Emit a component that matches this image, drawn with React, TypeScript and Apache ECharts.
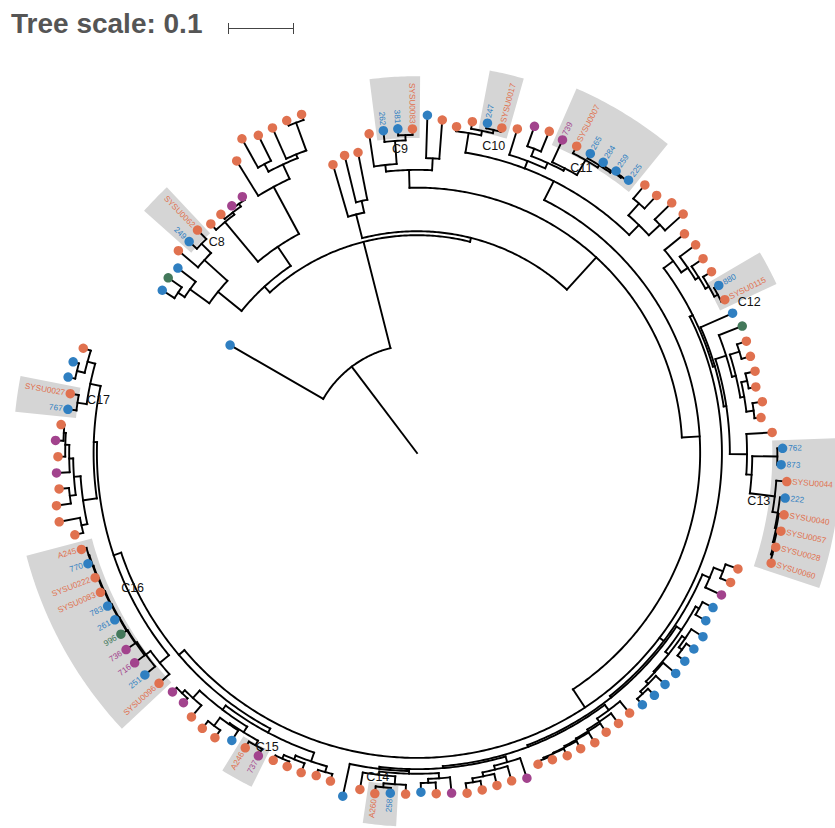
import React, { useEffect, useRef } from "react";
import * as echarts from "echarts";

// Tree in Newick style; every node carries its distance from the root after "@".
// Leaf token: colour group (o / b / p / g), optionally followed by "|label".
const C8a1 = "((b@0.458,g@0.461)@0.436,b@0.458)@0.424";
const C8a2 = "(o@0.474,(b|249@0.471,o|SYSU0062@0.474)@0.455)@0.435";
const C8a = "({C8a1},{C8a2})@0.388";
const C8b1 = "(o@0.467,(o@0.468,(p@0.468,p@0.470)@0.464)@0.459)@0.455";
const C8b2 = "(o@0.520,((o@0.545,o@0.538)@0.495,(o@0.539,(o@0.541,o@0.542)@0.533)@0.488)@0.482)@0.458";
const C8b = "({C8b1},{C8b2})@0.377";
const C8 = "({C8a},{C8b})@0.342";
const MT = "(o@0.455,(o@0.464,o@0.464)@0.391)@0.373";
const C9 = "(o@0.489,(b|262@0.491,(b|381@0.492,o|SYSU0083@0.491)@0.482)@0.474)@0.439";
const C9grp = "({C9},(b@0.512,o@0.506)@0.447)@0.429";
const C10grp = "(o@0.498,(o@0.509,(b|247@0.511,o|SYSU0017@0.509)@0.503)@0.498)@0.491";
const C11 = "(p|739@0.523,(o|SYSU0007@0.524,(b|265@0.524,(b|284@0.523,(b|259@0.523,b|225@0.523)@0.521)@0.519)@0.516)@0.512)@0.486";
const Mid = "(o@0.514,((p@0.526,o@0.527)@0.494,{C11})@0.482)@0.473";
const RightA = "((o@0.533,o@0.533)@0.506,(o@0.541,o@0.542)@0.505)@0.482";
const X1 = "({C10grp},{Mid},{RightA})@0.461";
const RB = "(o@0.524,(o@0.527,(o@0.524,(o@0.524,(b|880@0.523,o|SYSU0115@0.521)@0.515)@0.509)@0.503)@0.497)@0.485";
const G = "(g@0.529,((o@0.527,o@0.526)@0.512,((o@0.527,o@0.523)@0.512,(o@0.529,o@0.524)@0.514)@0.503)@0.497)@0.491";
const C13c = "(o|SYSU0044@0.562,(b|222@0.562,(o|SYSU0040@0.564,(o|SYSU0057@0.564,(o|SYSU0028@0.562,o|SYSU0060@0.562)@0.560)@0.558)@0.556)@0.554)@0.546";
const C13grp = "(o@0.539,((b|762@0.554,b|873@0.552)@0.546,{C13c})@0.508)@0.500";
const RS3 = "({G},{C13grp})@0.474";
const RS2 = "(b@0.523,{RS3})@0.470";
const RS = "({RB},{RS2})@0.467";
const BR1 = "((o@0.517,o@0.514)@0.497,p@0.509)@0.482";
const BR2 = "((b@0.506,b@0.506)@0.488,((b@0.515,(b@0.514,b@0.514)@0.500)@0.494,(b@0.515,(b@0.514,(b@0.514,b@0.512)@0.500)@0.495)@0.490)@0.488)@0.482";
const BR3 = "(o@0.509,(o@0.511,(o@0.511,(o@0.515,(o@0.512,(o@0.512,(o@0.508,o@0.506)@0.502)@0.500)@0.499)@0.497)@0.495)@0.492)@0.486";
const BT1 = "(p@0.520,(o@0.517,(o@0.518,(o@0.520,o@0.521)@0.506)@0.500)@0.494)@0.488";
const C14grp = "((p@0.518,(o@0.517,b@0.514)@0.500)@0.494,((o@0.517,(b|258@0.517,o|A260@0.520)@0.509)@0.503,o@0.517)@0.491)@0.486";
const BBa5 = "({C14grp},b@0.532)@0.482";
const BBa4 = "({BT1},{BBa5})@0.479";
const BBa3 = "({BR3},{BBa4})@0.476";
const BBa2 = "({BR2},{BBa3})@0.473";
const BBa = "({BR1},{BBa2})@0.470";
const BT2 = "((o@0.514,o@0.512)@0.503,(o@0.515,(o@0.514,o@0.514)@0.506)@0.500)@0.494";
const C15grp = "(((p|737@0.518,o|A246@0.517)@0.506,(b@0.518,(o@0.529,o@0.529)@0.515)@0.500)@0.498,(o@0.526,(p@0.518,p@0.518)@0.509)@0.503)@0.488";
const LB = "({BT2},{C15grp})@0.480";
const C16grp = "(o|SYSU0096@0.524,(b|251@0.532,(p|716@0.533,(p|736@0.532,(g|996@0.526,(b|261@0.523,(b|783@0.523,(o|SYSU0083@0.524,(o|SYSU0222@0.523,(b|770@0.526,o|A245@0.529)@0.521)@0.520)@0.519)@0.518)@0.517)@0.516)@0.515)@0.514)@0.512)@0.503";
const LG = "((o@0.533,o@0.552)@0.520,((o@0.552,o@0.545)@0.530,(p@0.547,(o@0.544,(p@0.548,o@0.541)@0.536)@0.533)@0.527)@0.521)@0.511";
const C17grp = "((b|767@0.533,o|SYSU0027@0.533)@0.520,((b@0.541,b@0.539)@0.530,o@0.530)@0.518)@0.506";
const LG2 = "({LG},{C17grp})@0.490";
const LL = "({C16grp},{LG2})@0.485";
const BBrest = "({LB},{LL})@0.473";
const R4 = "({RS},{BBa},{BBrest})@0.462";
const R3 = "({X1},{R4})@0.429";
const R2 = "({C9grp},{R3})@0.402";
const R1 = "({MT},{R2})@0.336";
const B = "({C8},{R1})@0.330";
const TREE = "(b@0.327,{B})@0.164";

const CLADES: Record<string, string> = {
  C8a1, C8a2, C8a, C8b1, C8b2, C8b, C8, MT, C9, C9grp, C10grp, C11, Mid, RightA, X1,
  RB, G, C13c, C13grp, RS3, RS2, RS, BR1, BR2, BR3, BT1, C14grp, BBa5, BBa4, BBa3,
  BBa2, BBa, BT2, C15grp, LB, C16grp, LG, C17grp, LG2, LL, BBrest, R4, R3, R2, R1, B,
};

const TIP_COLORS: Record<string, string> = {
  o: "#E0714F",
  b: "#2F7FC1",
  p: "#A2438D",
  g: "#43785A",
};

// Highlighted clusters and their member tips (in tip order)
const CLUSTER_NAMES = ["C8", "C9", "C10", "C11", "C12", "C13", "C14", "C15", "C16", "C17"];
const CLUSTER_MEMBERS = [
  ["249", "SYSU0062"],
  ["262", "381", "SYSU0083"],
  ["247", "SYSU0017"],
  ["739", "SYSU0007", "265", "284", "259", "225"],
  ["880", "SYSU0115"],
  ["762", "873", "SYSU0044", "222", "SYSU0040", "SYSU0057", "SYSU0028", "SYSU0060"],
  ["258", "A260"],
  ["737", "A246"],
  ["SYSU0096", "251", "716", "736", "996", "261", "783", "SYSU0083", "SYSU0222", "770", "A245"],
  ["767", "SYSU0027"],
];

const SCALE_BAR_VALUE = 0.1;

// ---- layout constants ----
const CANVAS_W = 835;
const CANVAS_H = 828;
const ORIGIN = { x: 417, y: 453 };
const PX_PER_UNIT = 660;
const START_ANGLE = 150;
const ARC_SPAN = 350;
const DEG = Math.PI / 180;
const FONT = '"Liberation Sans", Arial, Helvetica, sans-serif';
const TIP_FONT = 8.2;
const TIP_GAP = 5.5;
// where each cluster caption sits: [angle in degrees, distance from the root]
const CLUSTER_LABEL_AT: Record<string, [number, number]> = {
  C8: [133.5, 0.441],
  C9: [93.2, 0.462],
  C10: [76, 0.48],
  C11: [60, 0.498],
  C12: [24.5, 0.553],
  C13: [-8.0, 0.523],
  C14: [-96.9, 0.494],
  C15: [-117, 0.5],
  C16: [-154.6, 0.477],
  C17: [170.6, 0.489],
};

type TNode = {
  children: TNode[];
  depth: number;
  theta: number;
  color?: string;
  label?: string;
};

function expand(src: string): string {
  return src.replace(/\{(\w+)\}/g, (_m, k) => expand(CLADES[k]));
}

function parseTree(src: string): TNode {
  let i = 0;
  const num = () => {
    const j = i;
    while (i < src.length && /[0-9.]/.test(src[i])) i++;
    return parseFloat(src.slice(j, i));
  };
  const node = (): TNode => {
    const n: TNode = { children: [], depth: 0, theta: 0 };
    if (src[i] === "(") {
      i++;
      n.children.push(node());
      while (src[i] === ",") {
        i++;
        n.children.push(node());
      }
      i++; // ')'
    } else {
      n.color = src[i];
      i++;
      if (src[i] === "|") {
        i++;
        const j = i;
        while (src[i] !== "@") i++;
        n.label = src.slice(j, i);
      }
    }
    i++; // '@'
    n.depth = num();
    return n;
  };
  return node();
}

type Seg = { arc: boolean; r0: number; r1: number; t0: number; t1: number };

function buildLayout() {
  const root = parseTree(expand(TREE));
  const leaves: TNode[] = [];
  const walk = (n: TNode) => {
    if (!n.children.length) leaves.push(n);
    else n.children.forEach(walk);
  };
  walk(root);
  const step = ARC_SPAN / leaves.length;
  leaves.forEach((l, k) => {
    l.theta = START_ANGLE - k * step;
  });
  const place = (n: TNode) => {
    if (!n.children.length) return;
    n.children.forEach(place);
    n.theta = (n.children[0].theta + n.children[n.children.length - 1].theta) / 2;
  };
  place(root);
  const segs: Seg[] = [];
  const emit = (n: TNode, parentDepth: number) => {
    segs.push({ arc: false, r0: parentDepth, r1: n.depth, t0: n.theta, t1: n.theta });
    if (n.children.length) {
      segs.push({
        arc: true,
        r0: n.depth,
        r1: n.depth,
        t0: n.children[0].theta,
        t1: n.children[n.children.length - 1].theta,
      });
      n.children.forEach((c) => emit(c, n.depth));
    }
  };
  emit(root, 0);
  return { leaves, segs, step };
}

const CHAR_W: Record<string, number> = { S: 0.667, Y: 0.667, U: 0.722, A: 0.667 };
const textWidth = (s: string, size: number) =>
  Array.from(s).reduce((w, c) => w + (CHAR_W[c] ?? 0.556), 0) * size;

const polar = (r: number, tDeg: number): [number, number] => [
  r * Math.cos(tDeg * DEG),
  r * Math.sin(tDeg * DEG),
];

function buildOption() {
  const { leaves, segs, step } = buildLayout();
  const labeled = leaves.filter((l) => l.label);

  const sectors = CLUSTER_MEMBERS.map((members) => {
    let start = -1;
    for (let i = 0; i + members.length <= leaves.length; i++) {
      if (members.every((m, k) => leaves[i + k].label === m)) {
        start = i;
        break;
      }
    }
    const run = leaves.slice(start, start + members.length);
    const minD = Math.min(...run.map((l) => l.depth));
    const maxD = Math.max(...run.map((l) => l.depth));
    const maxW = Math.max(...run.map((l) => textWidth(l.label || "", TIP_FONT)));
    return {
      t0: run[0].theta + step / 2,
      t1: run[run.length - 1].theta - step / 2,
      rIn: minD - 9 / PX_PER_UNIT,
      rOut: maxD + (TIP_GAP + maxW + 6) / PX_PER_UNIT,
    };
  });

  const arcPoints = (api: any, r: number, t0: number, t1: number) => {
    const n = Math.max(2, Math.ceil(Math.abs(t1 - t0) / 0.5) + 1);
    const pts: number[][] = [];
    for (let k = 0; k < n; k++) pts.push(api.coord(polar(r, t0 + ((t1 - t0) * k) / (n - 1))));
    return pts;
  };

  const scalePx = SCALE_BAR_VALUE * PX_PER_UNIT;
  const barX = 228;
  const barY = 28.5;

  return {
    animation: false,
    grid: { left: 0, right: 0, top: 0, bottom: 0 },
    xAxis: {
      type: "value",
      min: -ORIGIN.x / PX_PER_UNIT,
      max: (CANVAS_W - ORIGIN.x) / PX_PER_UNIT,
      show: false,
    },
    yAxis: {
      type: "value",
      min: -(CANVAS_H - ORIGIN.y) / PX_PER_UNIT,
      max: ORIGIN.y / PX_PER_UNIT,
      show: false,
    },
    graphic: [
      {
        type: "text",
        x: 11,
        y: 23.3,
        style: {
          text: `Tree scale: ${SCALE_BAR_VALUE}`,
          fill: "#555555",
          fontSize: 28,
          fontWeight: "bold",
          fontFamily: FONT,
          align: "left",
          textAlign: "left",
          verticalAlign: "middle",
          textVerticalAlign: "middle",
        },
      },
      {
        type: "line",
        shape: { x1: barX, y1: barY, x2: barX + scalePx, y2: barY },
        style: { stroke: "#444", lineWidth: 1 },
      },
      {
        type: "line",
        shape: { x1: barX + 0.5, y1: barY - 5.5, x2: barX + 0.5, y2: barY + 5.5 },
        style: { stroke: "#444", lineWidth: 1 },
      },
      {
        type: "line",
        shape: { x1: barX + scalePx - 0.5, y1: barY - 5.5, x2: barX + scalePx - 0.5, y2: barY + 5.5 },
        style: { stroke: "#444", lineWidth: 1 },
      },
    ],
    series: [
      {
        type: "custom",
        z: 1,
        silent: true,
        data: sectors.map((_s, i) => [0, 0, i]),
        renderItem: (params: any, api: any) => {
          const s = sectors[params.dataIndex];
          const outer = arcPoints(api, s.rOut, s.t0, s.t1);
          const inner = arcPoints(api, s.rIn, s.t1, s.t0);
          return {
            type: "polygon",
            shape: { points: outer.concat(inner) },
            style: { fill: "#D5D5D5", stroke: "none" },
          };
        },
      },
      {
        type: "custom",
        z: 2,
        silent: true,
        data: segs.map((_s, i) => [0, 0, i]),
        renderItem: (params: any, api: any) => {
          const s = segs[params.dataIndex];
          const pts = s.arc
            ? arcPoints(api, s.r0, s.t0, s.t1)
            : [api.coord(polar(s.r0, s.t0)), api.coord(polar(s.r1, s.t0))];
          return {
            type: "polyline",
            shape: { points: pts },
            style: { stroke: "#000", lineWidth: 1.9, fill: "none", lineCap: "square" },
          };
        },
      },
      {
        type: "scatter",
        z: 3,
        silent: true,
        symbol: "circle",
        symbolSize: 9.5,
        data: leaves.map((l) => ({
          value: polar(l.depth, l.theta),
          itemStyle: { color: TIP_COLORS[l.color || "o"], opacity: 1 },
        })),
      },
      {
        type: "custom",
        z: 4,
        silent: true,
        data: labeled.map((_l, i) => [0, 0, i]),
        renderItem: (params: any, api: any) => {
          const l = labeled[params.dataIndex];
          const right = Math.cos(l.theta * DEG) >= 0;
          const [x, y] = api.coord(polar(l.depth + TIP_GAP / PX_PER_UNIT, l.theta));
          const align = right ? "left" : "right";
          return {
            type: "text",
            x,
            y,
            rotation: (right ? l.theta : l.theta - 180) * DEG,
            style: {
              text: l.label,
              fill: TIP_COLORS[l.color || "o"],
              fontSize: TIP_FONT,
              fontFamily: FONT,
              align,
              textAlign: align,
              verticalAlign: "middle",
              textVerticalAlign: "middle",
            },
          };
        },
      },
      {
        type: "custom",
        z: 5,
        silent: true,
        data: CLUSTER_NAMES.map((_n, i) => [0, 0, i]),
        renderItem: (params: any, api: any) => {
          const name = CLUSTER_NAMES[params.dataIndex];
          const [t, r] = CLUSTER_LABEL_AT[name];
          const [x, y] = api.coord(polar(r, t));
          return {
            type: "text",
            x,
            y,
            style: {
              text: name,
              fill: "#111",
              fontSize: 12.5,
              fontFamily: FONT,
              align: "center",
              textAlign: "center",
              verticalAlign: "middle",
              textVerticalAlign: "middle",
            },
          };
        },
      },
    ],
  };
}

export default function App() {
  const ref = useRef<HTMLDivElement>(null);
  useEffect(() => {
    if (!ref.current) return;
    const chart = echarts.init(ref.current, undefined, { renderer: "svg" });
    chart.setOption(buildOption() as any);
    return () => chart.dispose();
  }, []);
  return (
    <div
      ref={ref}
      style={{
        position: "absolute",
        left: 0,
        top: 0,
        width: CANVAS_W,
        height: CANVAS_H,
        background: "#fff",
      }}
    />
  );
}
